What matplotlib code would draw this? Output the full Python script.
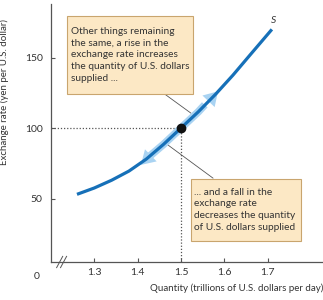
import matplotlib.pyplot as plt
from matplotlib.patches import Rectangle

# supply curve S
qty = [1.26, 1.30, 1.34, 1.38, 1.42, 1.46, 1.50, 1.54, 1.58, 1.62, 1.66, 1.71]
rate = [53, 57.5, 63, 69.5, 78, 88.5, 100, 111.5, 124, 137.5, 152, 170]

eq_q = 1.5
eq_r = 100

xticks = [1.3, 1.4, 1.5, 1.6, 1.7]
yticks = [50, 100, 150]

note_up = "Other things remaining\nthe same, a rise in the\nexchange rate increases\nthe quantity of U.S. dollars\nsupplied ..."
note_down = "... and a fall in the\nexchange rate\ndecreases the quantity\nof U.S. dollars supplied"

blue = '#1670b8'
light = '#a9d3f2'
grey = '#555555'
txt = '#333333'
plt.rcParams['font.family'] = ['Lato', 'DejaVu Sans']

fig = plt.figure(figsize=(3.23, 3.0), dpi=100)
ax = fig.add_axes([51 / 323, 38 / 300, 272 / 323, 258 / 300])
ax.set_xlim(1.2, 1.828)
ax.set_ylim(5, 188)

# light arrows along the curve
lo = [(q, r) for q, r in zip(qty, rate) if 1.42 <= q <= 1.5]
hi = [(q, r) for q, r in zip(qty, rate) if 1.5 <= q <= 1.54]
ax.plot([p[0] for p in lo], [p[1] for p in lo], color=light, lw=5.5, solid_capstyle='butt', zorder=2)
ax.plot([p[0] for p in hi] + [1.555], [p[1] for p in hi] + [116.5], color=light, lw=5.5,
        solid_capstyle='butt', zorder=2)
head = dict(arrowstyle='-|>,head_length=0.9,head_width=0.55', color=light, lw=0, mutation_scale=11)
ax.annotate('', xy=(1.403, 72.5), xytext=(1.43, 80.5), arrowprops=head, zorder=2)
ax.annotate('', xy=(1.59, 127.5), xytext=(1.553, 115.5), arrowprops=head, zorder=2)

ax.plot(qty, rate, color=blue, lw=2.3, solid_capstyle='butt', zorder=3)
ax.text(1.713, 176, 'S', fontsize=7.5, style='italic', color=txt, ha='center', va='center')

# dotted guides and point
ax.plot([1.2, eq_q], [eq_r, eq_r], ls=(0, (1, 1.5)), color=grey, lw=0.9, zorder=1)
ax.plot([eq_q, eq_q], [5, eq_r], ls=(0, (1, 1.5)), color=grey, lw=0.9, zorder=1)
ax.plot(eq_q, eq_r, 'o', color='#111111', ms=6, zorder=4)

# leader lines
ax.plot([1.463, 1.523], [124, 110.6], color=grey, lw=0.6, zorder=1)
ax.plot([1.47, 1.574], [88, 64.5], color=grey, lw=0.6, zorder=1)

# notes
ax.add_patch(Rectangle((1.237, 124.1), 0.291, 55.3, facecolor='#fce8c5', edgecolor='#c9a56e', lw=0.8, zorder=5))
ax.text(1.246, 152, note_up, fontsize=7.3, color=txt, va='center', ha='left', linespacing=1.4, zorder=6)
ax.add_patch(Rectangle((1.523, 19.9), 0.254, 43.9, facecolor='#fce8c5', edgecolor='#c9a56e', lw=0.8, zorder=5))
ax.text(1.531, 42, note_down, fontsize=7.3, color=txt, va='center', ha='left', linespacing=1.4, zorder=6)

# axes styling
for s in ['top', 'right']:
    ax.spines[s].set_visible(False)
for s in ['left', 'bottom']:
    ax.spines[s].set_color(grey)
    ax.spines[s].set_linewidth(0.9)
ax.set_xticks(xticks)
ax.set_yticks(yticks)
ax.set_xticklabels([str(v) for v in xticks])
ax.tick_params(direction='in', length=3, width=0.8, colors=grey, labelcolor=txt, labelsize=7.5, pad=4)
ax.tick_params(axis='y', pad=6)
ax.text(-0.04, -0.04, '0', transform=ax.transAxes, fontsize=7.5, color=txt, ha='right', va='top')

# axis break
ax.plot([1.213, 1.227], [1, 9], color=grey, lw=0.7, clip_on=False)
ax.plot([1.222, 1.236], [1, 9], color=grey, lw=0.7, clip_on=False)

ax.set_xlabel('Quantity (trillions of U.S. dollars per day)', fontsize=7, color=txt, ha='right', labelpad=5)
ax.xaxis.set_label_coords(1.0, -0.085)
ax.set_ylabel('Exchange rate (yen per U.S. dollar)', fontsize=7, color=txt, labelpad=6)
ax.yaxis.set_label_coords(-0.155, 0.66)

fig.savefig('out.png', dpi=100)
